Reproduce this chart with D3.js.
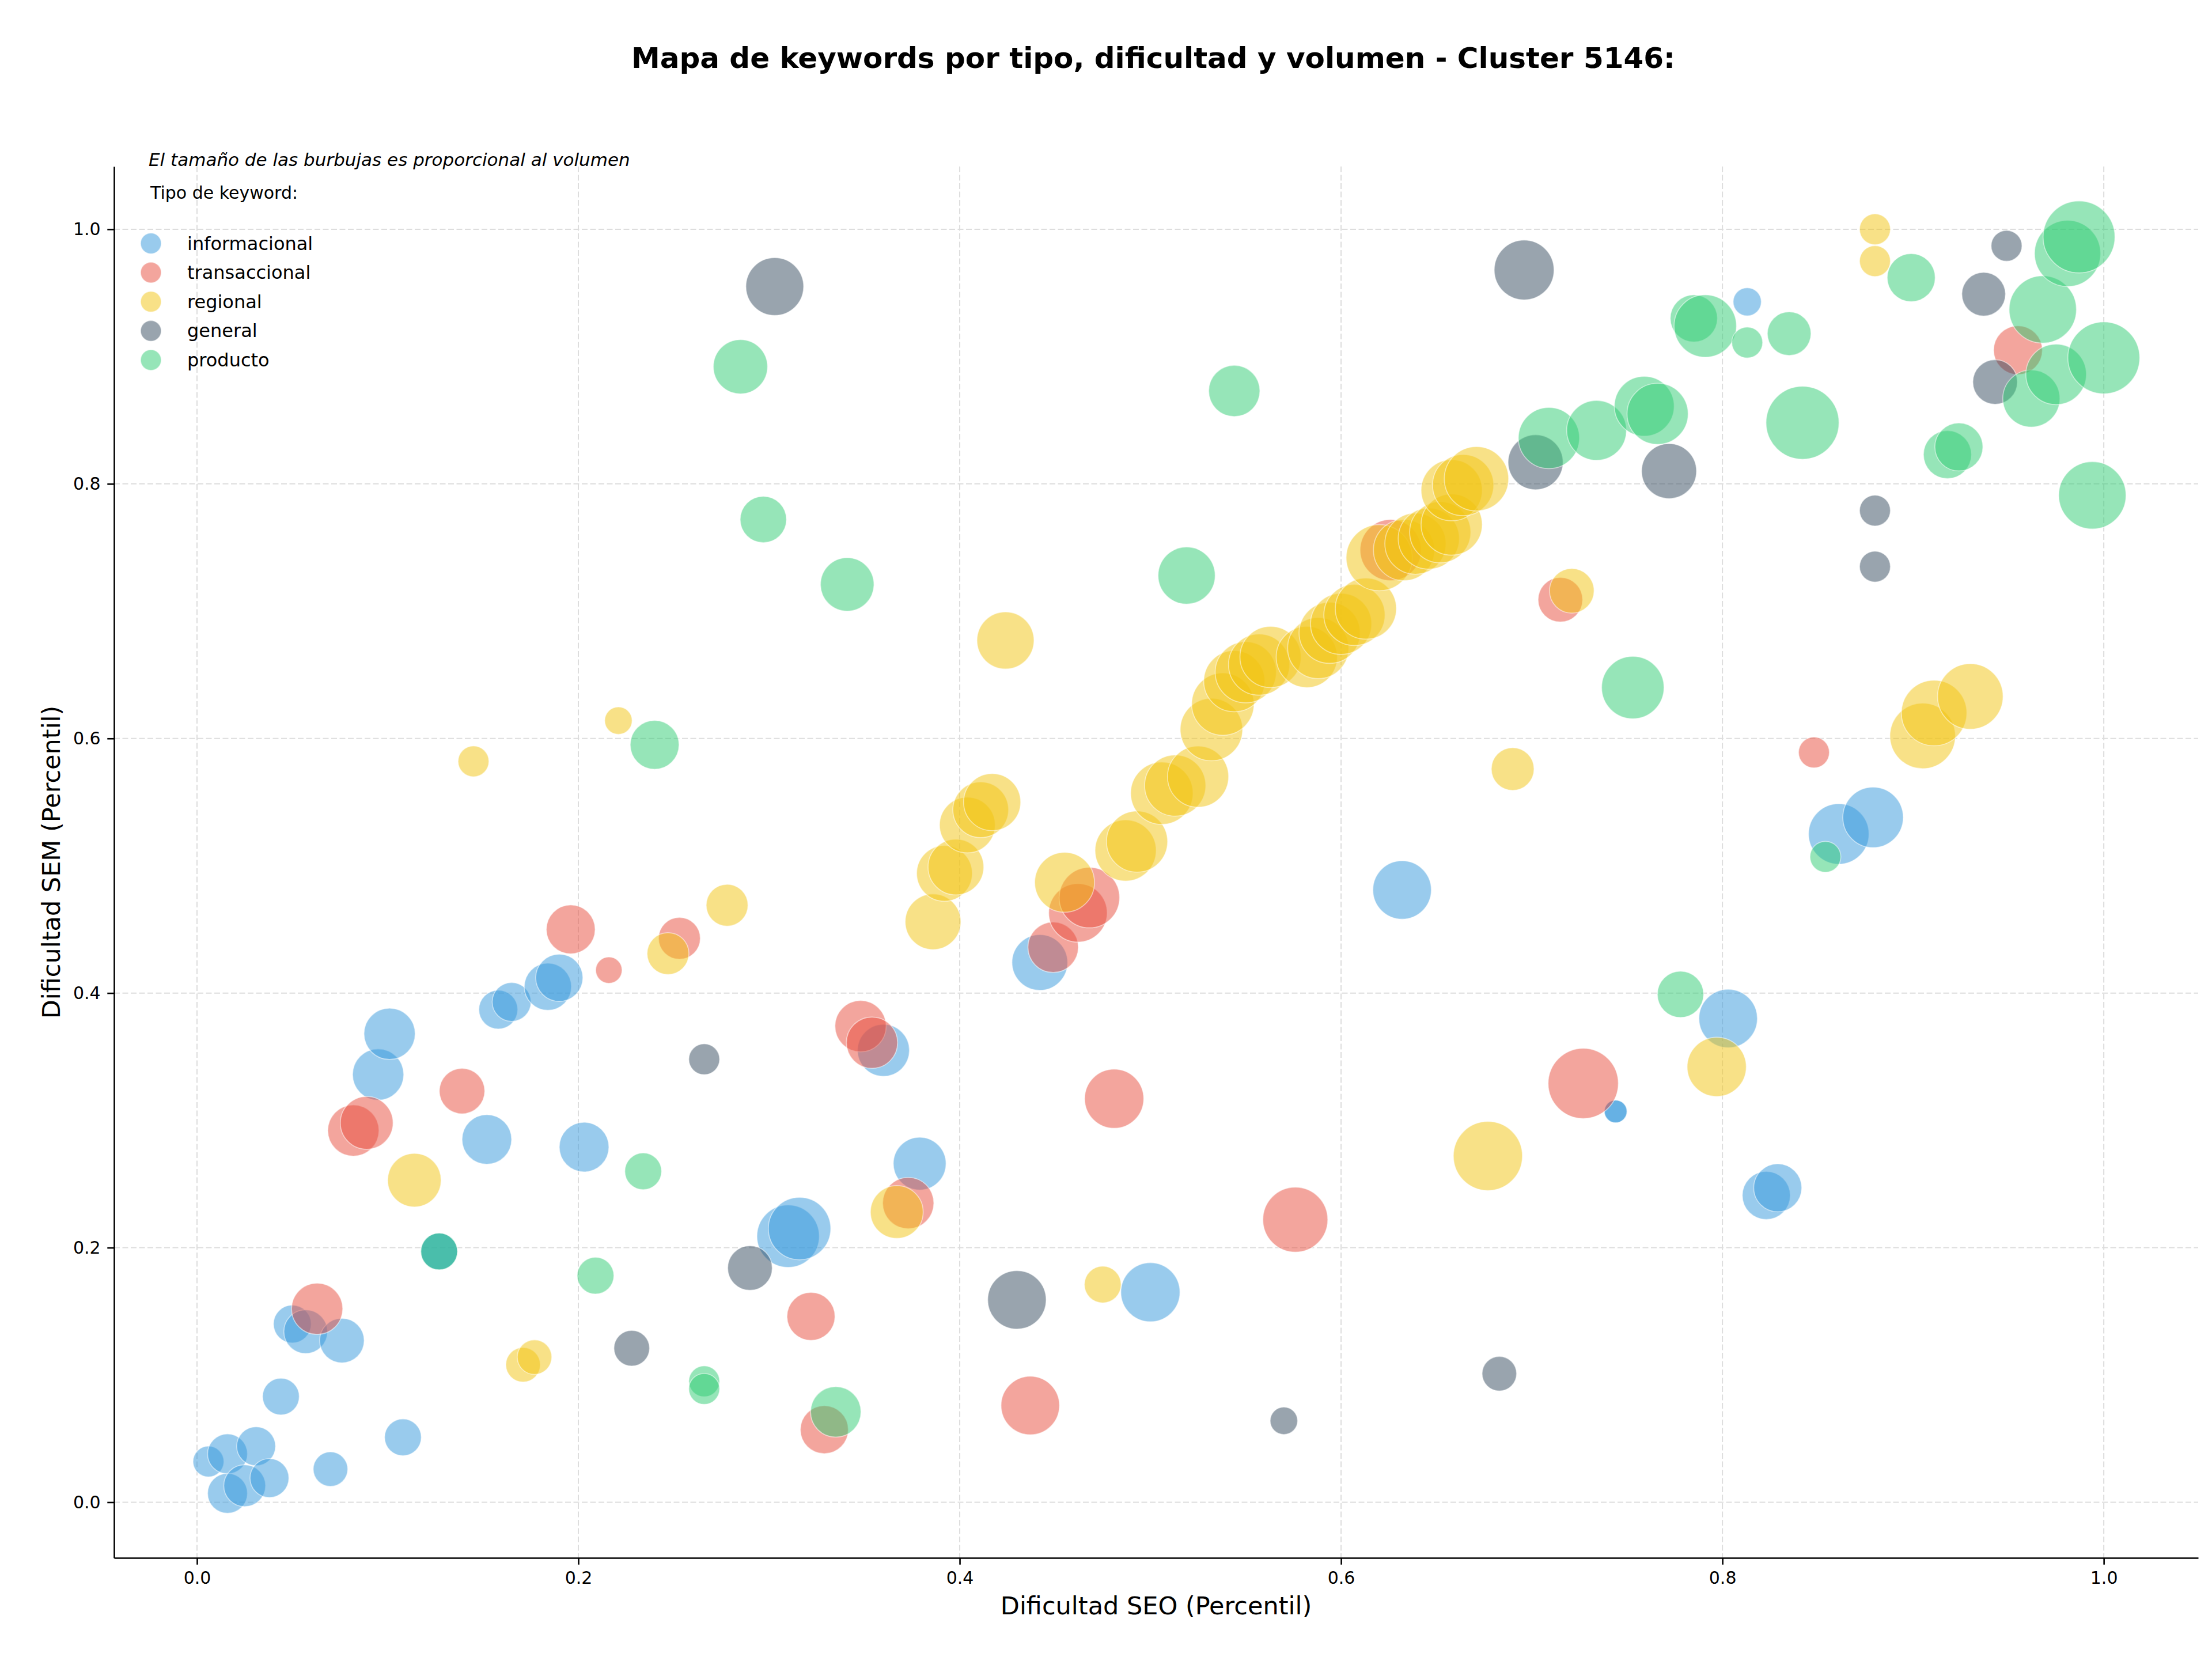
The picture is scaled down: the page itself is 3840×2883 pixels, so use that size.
<!DOCTYPE html>
<html><head><meta charset="utf-8">
<script src="https://cdn.jsdelivr.net/npm/d3@7"></script>
<style>html,body{margin:0;padding:0;background:#fff}svg{display:block;font-family:"DejaVu Sans",sans-serif}</style>
</head><body><script>
// ---- data ----
const categories = ["informacional", "transaccional", "regional", "general", "producto"];
const colors = ["#3498DB", "#E74C3C", "#F1C40F", "#34495E", "#2ECC71"];
const xTicks = [0, 0.2, 0.4, 0.6, 0.8, 1.0];
const yTicks = [0, 0.2, 0.4, 0.6, 0.8, 1.0];
const titleText = "Mapa de keywords por tipo, dificultad y volumen - Cluster 5146:";
const subtitleText = "El tamaño de las burbujas es proporcional al volumen";
const legendTitle = "Tipo de keyword:";
const xLabel = "Dificultad SEO (Percentil)";
const yLabel = "Dificultad SEM (Percentil)";

// [dificultad SEO, dificultad SEM, volumen]
const informacional = [
  [0.006,0.032,1200],[0.016,0.038,2000],[0.016,0.007,2000],[0.025,0.013,2200],
  [0.031,0.044,1900],[0.038,0.019,1900],[0.044,0.083,1700],[0.050,0.140,1800],
  [0.057,0.134,2400],[0.070,0.026,1500],[0.076,0.127,2500],[0.108,0.051,1700],
  [0.095,0.336,3300],[0.101,0.368,3300],[0.152,0.285,3100],[0.158,0.387,1900],
  [0.165,0.393,1900],[0.184,0.405,2800],[0.190,0.412,2800],[0.203,0.279,3100],
  [0.127,0.197,1700],[0.127,0.197,1700],[0.310,0.209,4900],[0.316,0.215,4900],
  [0.360,0.355,3400],[0.379,0.266,3500],[0.442,0.424,3900],[0.500,0.165,4400],
  [0.632,0.481,4300],[0.744,0.307,650],[0.744,0.307,650],[0.813,0.943,1000],
  [0.803,0.380,4300],[0.823,0.241,2900],[0.829,0.247,2900],[0.861,0.525,4600],
  [0.879,0.538,4600]
];
const transaccional = [
  [0.063,0.152,3300],[0.082,0.292,3300],[0.089,0.298,3500],[0.139,0.323,2600],
  [0.196,0.450,3000],[0.216,0.418,880],[0.253,0.443,2200],[0.348,0.374,3300],
  [0.354,0.361,3300],[0.373,0.235,3300],[0.322,0.146,2900],[0.329,0.057,2900],
  [0.437,0.076,4300],[0.449,0.436,3200],[0.462,0.463,4300],[0.468,0.475,4600],
  [0.481,0.317,4400],[0.576,0.222,5300],[0.626,0.748,4700],[0.715,0.709,2500],
  [0.727,0.329,6200],[0.848,0.589,1200],[0.955,0.905,3000]
];
const regional = [
  [0.114,0.253,3600],[0.145,0.582,1200],[0.171,0.108,1500],[0.177,0.114,1500],
  [0.221,0.614,950],[0.247,0.431,2200],[0.278,0.469,2200],[0.367,0.228,3500],
  [0.386,0.456,3900],[0.392,0.494,3900],[0.398,0.499,3900],[0.404,0.532,3900],
  [0.411,0.544,3900],[0.417,0.550,4100],[0.424,0.677,4100],[0.455,0.487,4500],
  [0.475,0.171,1700],[0.487,0.512,4700],[0.493,0.519,4700],[0.506,0.557,4900],
  [0.513,0.563,4700],[0.525,0.570,4700],[0.532,0.607,4900],[0.538,0.627,4900],
  [0.544,0.645,4700],[0.550,0.652,4700],[0.557,0.658,4700],[0.563,0.664,4700],
  [0.582,0.664,4700],[0.588,0.671,4700],[0.594,0.683,4700],[0.600,0.690,4700],
  [0.607,0.697,4700],[0.613,0.702,4700],[0.620,0.742,5500],[0.633,0.748,4700],
  [0.639,0.753,4700],[0.646,0.757,4700],[0.652,0.762,4700],[0.658,0.768,4700],
  [0.658,0.795,4700],[0.664,0.799,4700],[0.671,0.804,5200],[0.677,0.272,6000],
  [0.690,0.576,2300],[0.721,0.716,2500],[0.797,0.342,4400],[0.880,1.000,1200],
  [0.880,0.975,1200],[0.905,0.602,5400],[0.911,0.620,5400],[0.930,0.633,5400]
];
const general = [
  [0.228,0.121,1600],[0.266,0.348,1200],[0.290,0.184,2500],[0.303,0.955,4200],
  [0.430,0.159,4300],[0.570,0.064,950],[0.683,0.101,1500],[0.696,0.968,4500],
  [0.702,0.817,3800],[0.772,0.810,3800],[0.880,0.779,1200],[0.880,0.735,1200],
  [0.937,0.949,2400],[0.943,0.880,2500],[0.949,0.987,1200]
];
const producto = [
  [0.127,0.197,1700],[0.209,0.178,1700],[0.234,0.260,1700],[0.240,0.595,3000],
  [0.266,0.095,1200],[0.266,0.089,1200],[0.285,0.892,3700],[0.297,0.772,2700],
  [0.335,0.071,3200],[0.341,0.721,3600],[0.519,0.728,4100],[0.544,0.873,3300],
  [0.709,0.836,4700],[0.734,0.842,4500],[0.753,0.640,4900],[0.759,0.861,4500],
  [0.766,0.855,4700],[0.778,0.399,2700],[0.785,0.930,2800],[0.791,0.924,4900],
  [0.813,0.911,1200],[0.835,0.918,2400],[0.842,0.848,6700],[0.854,0.507,1200],
  [0.899,0.962,2900],[0.918,0.823,2900],[0.924,0.829,2900],[0.962,0.867,4100],
  [0.968,0.937,5700],[0.975,0.886,4600],[0.981,0.981,5500],[0.987,0.994,6500],
  [0.994,0.791,5700],[1.000,0.899,6500]
];
const series = [informacional, transaccional, regional, general, producto];

// ---- layout ----
const W = 3840, H = 2883;
const L = 198, R = 3816, T = 289, B = 2704;

const svg = d3.select("body").append("svg").attr("width", W).attr("height", H);
svg.append("rect").attr("width", W).attr("height", H).attr("fill", "#fff");

const x = d3.scaleLinear().domain([-0.0435, 1.0495]).range([L, R]);
const y = d3.scaleLinear().domain([-0.0437, 1.0493]).range([B, T]);
const r = d3.scaleSqrt().domain([0, 10000]).range([0, 77.4]);

// grid
const grid = svg.append("g");
grid.selectAll(".gx").data(xTicks).enter().append("line")
  .attr("x1", d => x(d)).attr("x2", d => x(d)).attr("y1", T).attr("y2", B)
  .attr("stroke", "#dddddd").attr("stroke-width", 2).attr("stroke-dasharray", "10,4.5");
grid.selectAll(".gy").data(yTicks).enter().append("line")
  .attr("y1", d => y(d)).attr("y2", d => y(d)).attr("x1", L).attr("x2", R)
  .attr("stroke", "#dddddd").attr("stroke-width", 2).attr("stroke-dasharray", "10,4.5");

// bubbles
const plot = svg.append("g");
series.forEach((s, i) => {
  plot.append("g").selectAll("circle").data(s).enter().append("circle")
    .attr("cx", d => x(d[0])).attr("cy", d => y(d[1])).attr("r", d => r(d[2]))
    .attr("fill", colors[i]).attr("fill-opacity", 0.5)
    .attr("stroke", "#ffffff").attr("stroke-opacity", 0.5).attr("stroke-width", 1.7);
});

// axes
const fmt = d3.format(".1f");
const xAxis = svg.append("g").attr("transform", `translate(0,${B})`)
  .call(d3.axisBottom(x).tickValues(xTicks).tickFormat(fmt).tickSize(11.7).tickSizeOuter(0).tickPadding(11.7));
const yAxis = svg.append("g").attr("transform", `translate(${L},0)`)
  .call(d3.axisLeft(y).tickValues(yTicks).tickFormat(fmt).tickSize(11.7).tickSizeOuter(0).tickPadding(11.7));
[xAxis, yAxis].forEach(g => {
  g.select(".domain").attr("stroke", "#000").attr("stroke-width", 2.6);
  g.selectAll(".tick line").attr("stroke", "#000").attr("stroke-width", 2.6);
  g.selectAll(".tick text").attr("fill", "#000").attr("font-size", 30)
    .attr("font-family", '"DejaVu Sans", sans-serif');
});

// labels
svg.append("text").attr("x", (L + R) / 2).attr("y", 2802).attr("text-anchor", "middle")
  .attr("font-size", 43).text(xLabel);
svg.append("text").attr("transform", `translate(104,${(T + B) / 2}) rotate(-90)`)
  .attr("text-anchor", "middle").attr("font-size", 43).text(yLabel);
svg.append("text").attr("x", 2002).attr("y", 118).attr("text-anchor", "middle")
  .attr("font-size", 50).attr("font-weight", "bold").text(titleText);

// subtitle + legend
svg.append("text").attr("x", 258).attr("y", 288).attr("font-size", 31)
  .attr("font-style", "italic").text(subtitleText);
svg.append("text").attr("x", 261).attr("y", 345).attr("font-size", 30).text(legendTitle);
const leg = svg.append("g");
categories.forEach((c, i) => {
  const cy = 422.5 + i * 50.6;
  leg.append("circle").attr("cx", 262).attr("cy", cy).attr("r", 18)
    .attr("fill", colors[i]).attr("fill-opacity", 0.5)
    .attr("stroke", "#fff").attr("stroke-opacity", 0.5).attr("stroke-width", 1.7);
  leg.append("text").attr("x", 325).attr("y", cy + 11).attr("font-size", 32).text(c);
});
</script></body></html>
